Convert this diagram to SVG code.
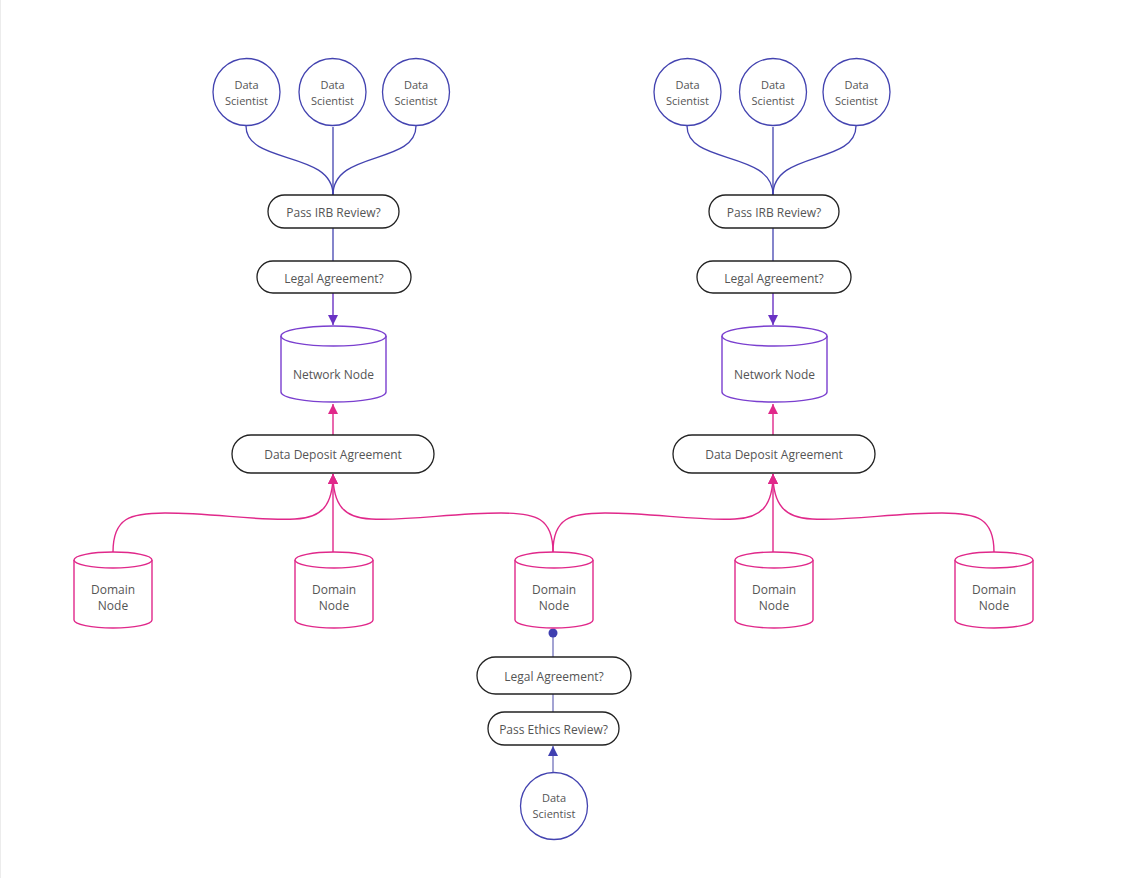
<svg xmlns="http://www.w3.org/2000/svg" width="1137" height="878" viewBox="0 0 1137 878">
<style>
  text { font-family: "Open Sans", "Noto Sans", "Liberation Sans", sans-serif; fill: #555555; text-anchor: middle; }
  .t11 { font-size: 11px; }
  .t12 { font-size: 12px; }
  .person { fill: #ffffff; stroke: #4343b0; stroke-width: 1.3; }
  .box { fill: #ffffff; stroke: #222222; stroke-width: 1.3; }
  .net { fill: #ffffff; stroke: #7a3fcf; stroke-width: 1.4; }
  .dom { fill: #ffffff; stroke: #e0288a; stroke-width: 1.4; }
  .cb { fill: none; stroke: #4343b0; stroke-width: 1.3; }
  .cbl { fill: none; stroke: #8585c4; stroke-width: 1.5; }
  .cp { fill: none; stroke: #6a32c4; stroke-width: 1.4; }
  .cpk { fill: none; stroke: #e0288a; stroke-width: 1.4; }
</style>
<defs>
  <marker id="ahPink" viewBox="0 0 10 10" refX="10" refY="5" markerWidth="10" markerHeight="10" markerUnits="userSpaceOnUse" orient="auto">
    <path d="M0,0 L10,5 L0,10 Z" fill="#e0288a"/>
  </marker>
  <marker id="ahPurple" viewBox="0 0 10 10" refX="10" refY="5" markerWidth="10" markerHeight="10" markerUnits="userSpaceOnUse" orient="auto">
    <path d="M0,0 L10,5 L0,10 Z" fill="#6a32c4"/>
  </marker>
  <marker id="ahBlue" viewBox="0 0 10 10" refX="10" refY="5" markerWidth="10" markerHeight="10" markerUnits="userSpaceOnUse" orient="auto">
    <path d="M0,0 L10,5 L0,10 Z" fill="#3f3fb0"/>
  </marker>
</defs>
<rect x="0" y="0" width="1137" height="878" fill="#ffffff"/>
<line x1="0.5" y1="0" x2="0.5" y2="878" stroke="#ececec" stroke-width="1"/>

<g id="connectors">
  <!-- left cluster -->
  <path class="cb" d="M246,126 C246,165 333,150 333,195"/>
  <path class="cb" d="M333,127 L333,195"/>
  <path class="cb" d="M416,126 C416,165 333,150 333,195"/>
  <path class="cb" d="M333,228 L333,261"/>
  <path class="cp" d="M333,293 L333,325" marker-end="url(#ahPurple)"/>
  <path class="cpk" d="M333,435 L333,404" marker-end="url(#ahPink)"/>
  <!-- right cluster -->
  <path class="cb" d="M687,126 C687,165 773,150 773,195"/>
  <path class="cb" d="M773,127 L773,195"/>
  <path class="cb" d="M856,126 C856,165 773,150 773,195"/>
  <path class="cb" d="M773,228 L773,261"/>
  <path class="cp" d="M773,293 L773,325" marker-end="url(#ahPurple)"/>
  <path class="cpk" d="M773,435 L773,404" marker-end="url(#ahPink)"/>
  <!-- domain nodes to left DDA -->
  <path class="cpk" d="M113,552 C113,518 130,513 165,513 C215,513 255,521 295,519 C322,518 333,505 333,474" marker-end="url(#ahPink)"/>
  <path class="cpk" d="M333,552 L333,474" marker-end="url(#ahPink)"/>
  <path class="cpk" d="M553,552 C553,518 536,513 501,513 C451,513 411,521 371,519 C344,518 333,505 333,474" marker-end="url(#ahPink)"/>
  <!-- domain nodes to right DDA -->
  <path class="cpk" d="M553,552 C553,518 570,513 605,513 C655,513 695,521 735,519 C762,518 773,505 773,474" marker-end="url(#ahPink)"/>
  <path class="cpk" d="M773,552 L773,474" marker-end="url(#ahPink)"/>
  <path class="cpk" d="M994,552 C994,518 977,513 942,513 C892,513 852,521 812,519 C785,518 773,505 773,474" marker-end="url(#ahPink)"/>
  <!-- bottom chain -->
  <path class="cbl" d="M553,657 L553,633"/>
  <circle cx="553" cy="633" r="4.5" fill="#3f3fb0"/>
  <path class="cbl" d="M553,694 L553,712"/>
  <path class="cbl" d="M553,772 L553,746" marker-end="url(#ahBlue)"/>
</g>

<!-- left cluster -->
<g id="ds-l1"><circle class="person" cx="246.5" cy="92" r="33.5"/><text class="t11" x="246.5" y="89">Data</text><text class="t11" x="246.5" y="105">Scientist</text></g>
<g id="ds-l2"><circle class="person" cx="332.5" cy="92" r="33.5"/><text class="t11" x="332.5" y="89">Data</text><text class="t11" x="332.5" y="105">Scientist</text></g>
<g id="ds-l3"><circle class="person" cx="416" cy="92" r="33.5"/><text class="t11" x="416" y="89">Data</text><text class="t11" x="416" y="105">Scientist</text></g>
<g id="irb-l"><rect class="box" x="268" y="195" width="131" height="33" rx="16.5"/><text class="t12" x="333.5" y="216.5">Pass IRB Review?</text></g>
<g id="legal-l"><rect class="box" x="257" y="261" width="154" height="32" rx="16"/><text class="t12" x="334" y="283">Legal Agreement?</text></g>
<g id="net-l">
  <path class="net" d="M281,336 A52.5,10 0 0 1 386,336 L386,392 A52.5,10 0 0 1 281,392 Z"/>
  <path class="net" fill="none" d="M281,336 A52.5,10 0 0 0 386,336"/>
  <text class="t12" x="333.5" y="379">Network Node</text>
</g>
<g id="dda-l"><rect class="box" x="232" y="435" width="202" height="38" rx="19"/><text class="t12" x="333" y="458.5">Data Deposit Agreement</text></g>

<!-- right cluster -->
<g id="ds-r1"><circle class="person" cx="687.5" cy="92" r="33.5"/><text class="t11" x="687.5" y="89">Data</text><text class="t11" x="687.5" y="105">Scientist</text></g>
<g id="ds-r2"><circle class="person" cx="773" cy="92" r="33.5"/><text class="t11" x="773" y="89">Data</text><text class="t11" x="773" y="105">Scientist</text></g>
<g id="ds-r3"><circle class="person" cx="856.5" cy="92" r="33.5"/><text class="t11" x="856.5" y="89">Data</text><text class="t11" x="856.5" y="105">Scientist</text></g>
<g id="irb-r"><rect class="box" x="709" y="195" width="130" height="33" rx="16.5"/><text class="t12" x="774" y="216.5">Pass IRB Review?</text></g>
<g id="legal-r"><rect class="box" x="697" y="261" width="154" height="32" rx="16"/><text class="t12" x="774" y="283">Legal Agreement?</text></g>
<g id="net-r">
  <path class="net" d="M722,336 A52.5,10 0 0 1 827,336 L827,392 A52.5,10 0 0 1 722,392 Z"/>
  <path class="net" fill="none" d="M722,336 A52.5,10 0 0 0 827,336"/>
  <text class="t12" x="774.5" y="379">Network Node</text>
</g>
<g id="dda-r"><rect class="box" x="673" y="435" width="202" height="38" rx="19"/><text class="t12" x="774" y="458.5">Data Deposit Agreement</text></g>

<!-- domain nodes -->
<g id="dom-1">
  <path class="dom" d="M74,560 A39,8 0 0 1 152,560 L152,620 A39,8 0 0 1 74,620 Z"/>
  <path class="dom" fill="none" d="M74,560 A39,8 0 0 0 152,560"/>
  <text class="t12" x="113" y="594">Domain</text><text class="t12" x="113" y="610">Node</text>
</g>
<g id="dom-2">
  <path class="dom" d="M295,560 A39,8 0 0 1 373,560 L373,620 A39,8 0 0 1 295,620 Z"/>
  <path class="dom" fill="none" d="M295,560 A39,8 0 0 0 373,560"/>
  <text class="t12" x="334" y="594">Domain</text><text class="t12" x="334" y="610">Node</text>
</g>
<g id="dom-3">
  <path class="dom" d="M515,560 A39,8 0 0 1 593,560 L593,620 A39,8 0 0 1 515,620 Z"/>
  <path class="dom" fill="none" d="M515,560 A39,8 0 0 0 593,560"/>
  <text class="t12" x="554" y="594">Domain</text><text class="t12" x="554" y="610">Node</text>
</g>
<g id="dom-4">
  <path class="dom" d="M735,560 A39,8 0 0 1 813,560 L813,620 A39,8 0 0 1 735,620 Z"/>
  <path class="dom" fill="none" d="M735,560 A39,8 0 0 0 813,560"/>
  <text class="t12" x="774" y="594">Domain</text><text class="t12" x="774" y="610">Node</text>
</g>
<g id="dom-5">
  <path class="dom" d="M955,560 A39,8 0 0 1 1033,560 L1033,620 A39,8 0 0 1 955,620 Z"/>
  <path class="dom" fill="none" d="M955,560 A39,8 0 0 0 1033,560"/>
  <text class="t12" x="994" y="594">Domain</text><text class="t12" x="994" y="610">Node</text>
</g>

<!-- bottom chain -->
<g id="legal-b"><rect class="box" x="477" y="657" width="154" height="37" rx="18.5"/><text class="t12" x="554" y="681">Legal Agreement?</text></g>
<g id="ethics-b"><rect class="box" x="488" y="712" width="131" height="33" rx="16.5"/><text class="t12" x="553.5" y="734">Pass Ethics Review?</text></g>
<g id="ds-b"><circle class="person" cx="554" cy="806" r="33.5"/><text class="t11" x="554" y="802">Data</text><text class="t11" x="554" y="818">Scientist</text></g>
</svg>
